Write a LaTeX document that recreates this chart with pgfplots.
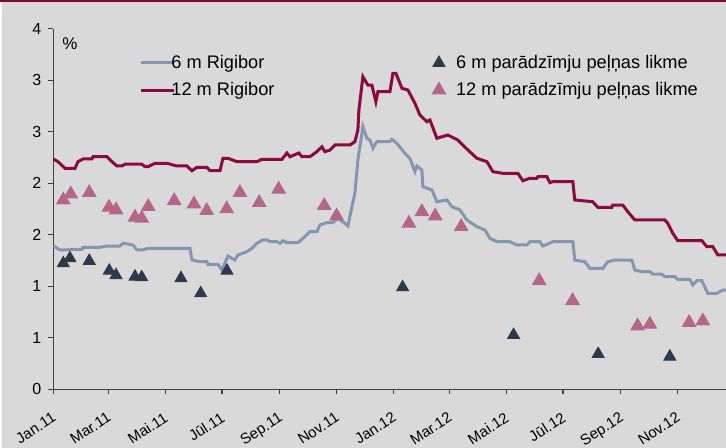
\documentclass[border=0pt]{standalone}
\usepackage{fontspec}
\setmainfont{Liberation Sans}
\usepackage{pgfplots}
\pgfplotsset{compat=1.18}
\definecolor{bgc}{HTML}{D9D9D9}
\definecolor{topc}{HTML}{7A0A35}
\definecolor{axisc}{HTML}{404040}
\definecolor{rig6}{HTML}{8397B2}
\definecolor{rig12}{HTML}{8C0A3C}
\definecolor{tri6}{HTML}{2C3B4B}
\definecolor{tri12}{HTML}{B5668B}
\pgfplotsset{
  lineleg/.style={legend image code/.code={\path (0bp,0bp) (16.5bp,0bp);\draw[##1,overlay] (4bp,0bp) -- (20.5bp,0bp);}},
  markleg/.style={legend image code/.code={\path (0bp,0bp) (12.4bp,0bp);\draw[mark repeat=2,mark phase=2,##1] plot coordinates {(0bp,0bp) (6bp,0bp) (12bp,0bp)};}},
}

\begin{document}
\begin{tikzpicture}
% background panel, 1px = 0.5bp
\fill[bgc] (-26.65bp,-29.35bp) rectangle (336.35bp,194.65bp);
\fill[white] (-26.65bp,-29.35bp) rectangle (-25.85bp,194.65bp);
\fill[topc] (-26.65bp,193.6bp) rectangle (336.35bp,194.65bp);
\begin{axis}[
    at={(0,0)}, anchor=south west,
    scale only axis,
    width=336.35bp, height=180.25bp,
    xmin=0, xmax=722, ymin=0, ymax=3.5,
    axis x line*=bottom, axis y line*=left,
    axis line style={draw=axisc, line width=0.6bp},
    tick style={draw=axisc, line width=0.6bp},
    tick align=outside, major tick length=2.5bp,
    xtick={0,59,120,181,243,304,365,425,486,547,609,670},
    xticklabels={Jan.11,Mar.11,Mai.11,Jūl.11,Sep.11,Nov.11,Jan.12,Mar.12,Mai.12,Jūl.12,Sep.12,Nov.12},
    ytick={0,0.5,1,1.5,2,2.5,3,3.5},
    yticklabels={0,1,1,2,2,3,3,4},
    yticklabel style={font=\fontsize{8bp}{9.5bp}\selectfont},
    xticklabel style={font=\fontsize{7.5bp}{9bp}\selectfont, rotate=33, anchor=north east},
    xticklabel shift=3.8bp,
    legend columns=2,
    legend style={draw=none, fill=none, inner sep=0pt,
        at={(axis cs:83.4,3.29)}, anchor=north west,
        font=\fontsize{9.1bp}{10.5bp}\selectfont,
        row sep=1.5bp,
        /tikz/every even column/.append style={column sep=74bp}},
    legend cell align=left,
]
% 6 m Rigibor
\addplot[rig6, line width=1.5bp, lineleg] coordinates {
(0,1.391) (7.2,1.353) (14.7,1.353) (20.1,1.359) (30.8,1.359) (31.9,1.379) (50.1,1.379) (57.6,1.391)
(71.6,1.391) (74.8,1.418) (85.5,1.401) (89.8,1.353) (96.2,1.353) (101.6,1.369) (146.7,1.369)
(148.8,1.255) (157.4,1.239) (164.9,1.239) (166,1.214) (176.7,1.214) (181,1.158) (187.4,1.294)
(194.9,1.255) (198.1,1.304) (207.8,1.336) (213.2,1.369) (218.6,1.418) (225,1.450) (229.3,1.450)
(232.5,1.433) (240,1.433) (243.3,1.418) (246.5,1.443) (250.7,1.423) (262.6,1.423) (268,1.466)
(275.4,1.530) (282.9,1.530) (286.1,1.595) (293.7,1.618) (300.1,1.618) (305.4,1.660) (312.9,1.612)
(316.2,1.586) (320.5,1.773) (323.7,1.903) (326.9,2.226) (332.3,2.550) (336.6,2.437) (339.8,2.420)
(343.1,2.340) (347.3,2.404) (361.3,2.404) (363.4,2.427) (368.8,2.388) (377.4,2.291) (382.7,2.243)
(388.1,2.113) (390.2,2.168) (395.6,2.129) (396.7,1.967) (406.4,1.935) (411.7,1.821) (422.5,1.838)
(427.8,1.773) (436.4,1.741) (443.9,1.644) (454.6,1.579) (463.2,1.547) (468.6,1.466) (476.1,1.433)
(490,1.433) (497.5,1.401) (508.3,1.401) (511.5,1.433) (522.2,1.433) (525.4,1.391) (536.2,1.433)
(557.6,1.433) (559.7,1.255) (570.5,1.239) (575.9,1.175) (589.8,1.175) (595.2,1.239) (602.7,1.255)
(621,1.255) (624.1,1.158) (631.6,1.142) (640.2,1.142) (643.5,1.119) (653.1,1.119) (656.3,1.093)
(667.1,1.093) (670.2,1.068) (683.1,1.068) (686.3,1.013) (690.6,1.054) (696,1.054) (699.2,0.996)
(702.4,0.932) (712.1,0.932) (718.6,0.964) (721.8,0.964)
};
\addlegendentry{6 m Rigibor}
% 6 m paradzimju pelnas likme
\addplot[only marks, mark=triangle*, mark size=3.5bp, color=tri6, markleg] coordinates {
(10.7,1.223) (17.9,1.272) (38.6,1.246) (60.1,1.151) (67.3,1.107) (87.7,1.093) (94.9,1.087)
(137,1.078) (158.2,0.932) (186.4,1.151) (374.9,0.990) (494,0.527) (584.8,0.342) (661.7,0.317)
};
\addlegendentry{6 m parādzīmju peļņas likme}
% 12 m Rigibor
\addplot[rig12, line width=1.5bp, lineleg] coordinates {
(0,2.236) (5,2.210) (12.6,2.146) (23.3,2.146) (26.5,2.210) (31.9,2.236) (41.5,2.236) (42.6,2.258)
(57.6,2.258) (63,2.210) (68.3,2.168) (73.7,2.168) (76.9,2.185) (95.2,2.185) (98.4,2.161)
(101.6,2.161) (109.1,2.194) (122,2.194) (132.7,2.168) (143.4,2.168) (148.8,2.122) (154.1,2.155)
(164.9,2.155) (168.1,2.122) (178.9,2.122) (182.1,2.243) (187.4,2.243) (197.1,2.210) (218.6,2.210)
(223.9,2.233) (245.4,2.233) (250.7,2.294) (254,2.258) (263.6,2.294) (266.8,2.258) (275.4,2.258)
(282.9,2.307) (288.3,2.355) (291.5,2.307) (296.9,2.323) (302.3,2.372) (318.4,2.372) (323.7,2.404)
(326.9,2.517) (328,2.712) (332.3,3.035) (337.6,2.954) (341.9,2.954) (346.2,2.792) (348.4,2.889)
(361.3,2.889) (364.5,3.068) (367.7,3.068) (374.2,2.922) (380.6,2.906) (388.1,2.777) (393.5,2.663)
(401,2.598) (404.2,2.615) (411.7,2.437) (423.5,2.469) (434.2,2.420) (445,2.323) (454.6,2.243)
(465.4,2.210) (471.8,2.113) (482.5,2.097) (498.6,2.097) (504,2.025) (511.5,2.049) (519,2.049)
(520.1,2.064) (529.7,2.064) (533,2.006) (536.2,2.016) (557.6,2.016) (559.7,1.838) (579,1.821)
(584.4,1.767) (599.4,1.767) (600.5,1.789) (611.2,1.789) (616.6,1.724) (624.1,1.644) (656.3,1.644)
(659.5,1.612) (664.9,1.515) (670.2,1.443) (696,1.443) (701.4,1.385) (707.8,1.385) (713.2,1.304)
(721.8,1.304)
};
\addlegendentry{12 m Rigibor}
% 12 m paradzimju pelnas likme
\addplot[only marks, mark=triangle*, mark size=3.9bp, color=tri12, markleg] coordinates {
(10.7,1.838) (18.7,1.896) (38.6,1.909) (59.8,1.767) (67.3,1.741) (87.7,1.670) (94.9,1.660)
(101.9,1.773) (129.8,1.831) (151,1.799) (164.6,1.734) (186.1,1.751) (200.3,1.909) (221,1.812)
(241.9,1.942) (290.8,1.783) (304.1,1.683) (381.7,1.612) (395.6,1.724) (409.9,1.683) (437.8,1.579)
(521.5,1.054) (557.3,0.860) (627.1,0.615) (640.3,0.631) (682.4,0.647) (697.1,0.663)
};
\addlegendentry{12 m parādzīmju peļņas likme}
\node[font=\fontsize{8.5bp}{10bp}\selectfont] at (axis cs:17.9,3.357) {\%};
\end{axis}
\pgfresetboundingbox
\path[use as bounding box] (-26.65bp,-29.35bp) rectangle (336.35bp,194.65bp);
\end{tikzpicture}
\end{document}
